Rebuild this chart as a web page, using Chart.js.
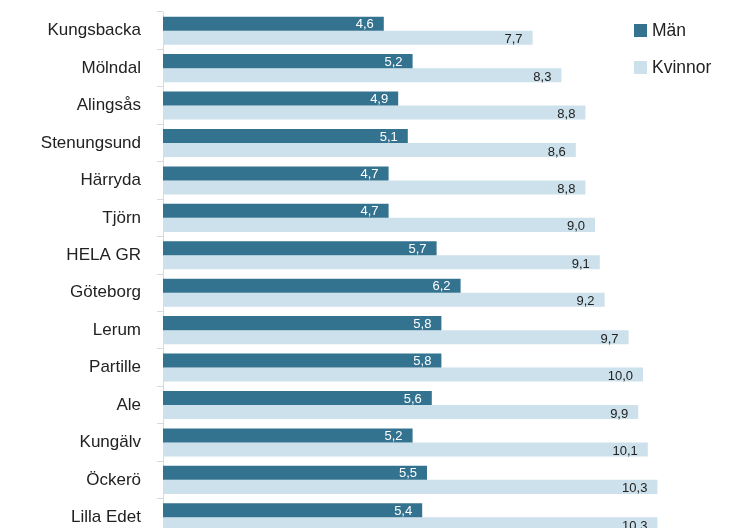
<!DOCTYPE html>
<html>
<head>
<meta charset="utf-8">
<script src="https://cdn.jsdelivr.net/npm/chart.js@4"></script>
<style>
  html, body { margin: 0; padding: 0; background: #fff; overflow: hidden; }
  #wrap { position: relative; width: 729px; height: 528px; overflow: hidden; }
  #box { position: absolute; left: 0; top: 0; width: 729px; height: 545px; }
  .legend { position: absolute; left: 634px; font: 17.5px "Liberation Sans", Arial, sans-serif; color: #222; }
  .legend div { height: 37px; display: flex; align-items: center; }
  .legend span { display: inline-block; width: 13px; height: 13px; margin-right: 5px; }
</style>
</head>
<body>
<div id="wrap">
  <div id="box"><canvas id="barChart"></canvas></div>
  <div class="legend" style="top: 12px;">
    <div><span style="background:#347390"></span>Män</div>
    <div><span style="background:#cce1eb"></span>Kvinnor</div>
  </div>
</div>
<script>
// Categories and values
const kommuner = ['Kungsbacka', 'Mölndal', 'Alingsås', 'Stenungsund', 'Härryda', 'Tjörn', 'HELA GR',
  'Göteborg', 'Lerum', 'Partille', 'Ale', 'Kungälv', 'Öckerö', 'Lilla Edet'];
const man = [4.6, 5.2, 4.9, 5.1, 4.7, 4.7, 5.7, 6.2, 5.8, 5.8, 5.6, 5.2, 5.5, 5.4];
const kvinnor = [7.7, 8.3, 8.8, 8.6, 8.8, 9.0, 9.1, 9.2, 9.7, 10.0, 9.9, 10.1, 10.3, 10.3];

// Draw value labels inside the end of each bar
const valueLabels = {
    id: 'valueLabels',
    afterDatasetsDraw(chart) {
        const ctx = chart.ctx;
        ctx.save();
        ctx.font = '13px "Liberation Sans", Arial, sans-serif';
        ctx.textAlign = 'right';
        ctx.textBaseline = 'middle';
        chart.data.datasets.forEach((ds, i) => {
            const meta = chart.getDatasetMeta(i);
            ctx.fillStyle = i === 0 ? '#ffffff' : '#222222';
            meta.data.forEach((bar, j) => {
                const txt = ds.data[j].toFixed(1).replace('.', ',');
                ctx.fillText(txt, bar.x - 10, bar.y + (i === 0 ? 1 : 2));
            });
        });
        ctx.restore();
    }
};

const ctx = document.getElementById('barChart').getContext('2d');
const chart = new Chart(ctx, {
    type: 'bar',
    data: {
        labels: kommuner,
        datasets: [
            { label: 'Män', data: man, backgroundColor: '#347390' },
            { label: 'Kvinnor', data: kvinnor, backgroundColor: '#cce1eb' }
        ]
    },
    options: {
        indexAxis: 'y',
        responsive: true,
        maintainAspectRatio: false,
        animation: false,
        layout: { padding: { top: 12, bottom: 9, right: 38, left: 0 } },
        datasets: { bar: { categoryPercentage: 0.75, barPercentage: 1 } },
        plugins: { legend: { display: false }, tooltip: { enabled: false } },
        scales: {
            x: { display: false, min: 0, max: 11 },
            y: {
                afterFit(scale) {
                    scale.width = 163;
                    scale.paddingTop = 0;
                    scale.paddingBottom = 0;
                },
                grid: { offset: true, drawOnChartArea: false, tickLength: 6, color: '#d9d9d9' },
                border: { color: '#d9d9d9' },
                ticks: {
                    padding: 16,
                    color: '#222',
                    font: { family: '"Liberation Sans", Arial, sans-serif', size: 17 }
                }
            }
        }
    },
    plugins: [valueLabels]
});
</script>
</body>
</html>
